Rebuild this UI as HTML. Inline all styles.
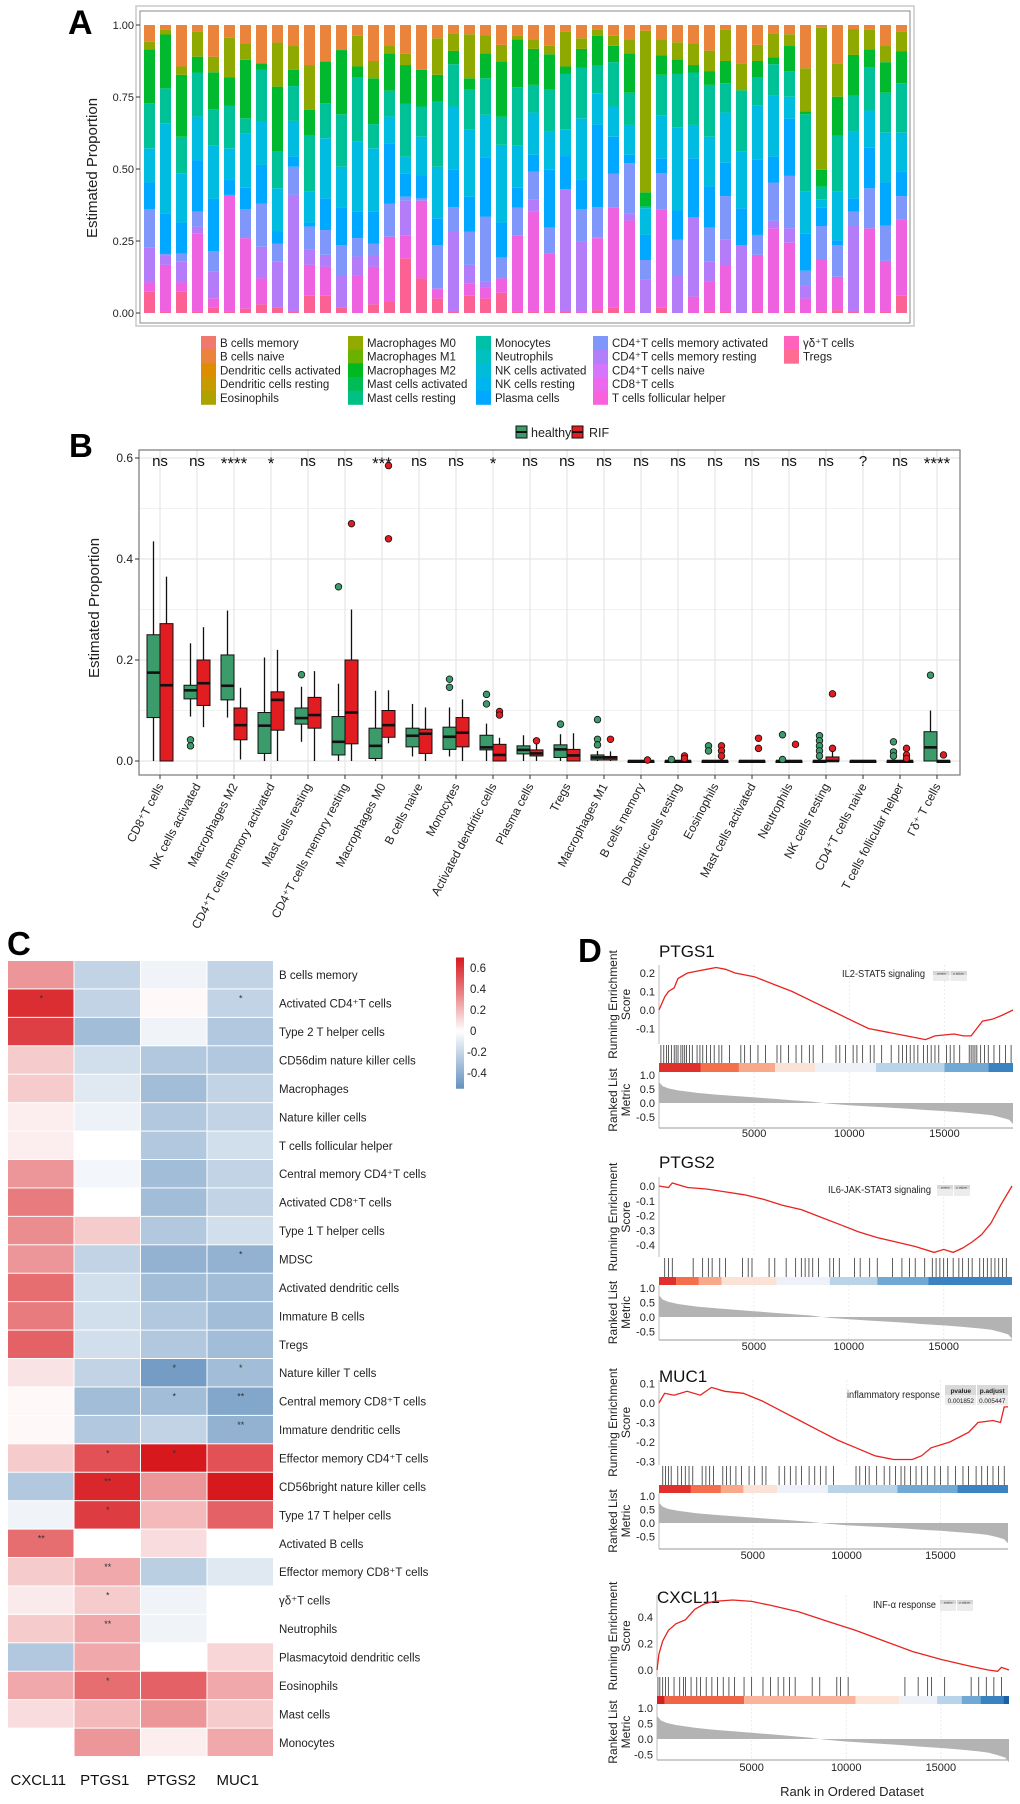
<!DOCTYPE html>
<html><head><meta charset="utf-8">
<style>
html,body{margin:0;padding:0;background:#fff;}
svg{display:block;font-family:"Liberation Sans",Arial,sans-serif;}
</style></head>
<body>
<svg id="fig" xmlns="http://www.w3.org/2000/svg" width="1020" height="1804" viewBox="0 0 1020 1804">
<rect x="0" y="0" width="1020" height="1804" fill="#fff"/>
<g id="pA"></g>
<g id="pB"></g>
<g id="pC"></g>
<g id="pD"></g>
</svg>
<script>
// ===== Panel A data (cumulative top of each stacked group per sample) =====
const aTregs  =[.074,.005,.074,.005,.02,.005,.015,.03,.02,.005,.06,.06,.02,0,.03,.04,.19,.12,.05,.005,.06,.05,.07,.005,.005,.005,.005,0,.01,.02,.005,0,.02,0,0,.005,.005,0,.005,0,.005,0,.005,.01,.005,0,.005,.06];
const aCD8Tfh =[.106,.167,.106,.277,.051,.41,.26,.12,.02,.005,.167,.16,.02,.13,.16,.265,.27,.39,.08,.005,.103,.09,.12,.268,.352,.207,.005,.005,.26,.367,.321,0,.36,0,.057,.109,.165,0,.202,.294,.244,.05,.184,.126,.005,.294,.181,.325];
const aCD4Rest=[.228,.2,.178,.30,.143,.41,.26,.23,.18,.41,.221,.202,.132,.196,.198,.265,.39,.39,.086,.283,.167,.109,.12,.268,.393,.207,.43,.248,.263,.367,.346,.115,.36,.132,.332,.178,.256,.236,.202,.32,.294,.097,.184,.126,.302,.294,.181,.325];
const aCD4Act =[.361,.205,.206,.352,.215,.41,.36,.38,.24,.508,.30,.288,.236,.26,.24,.379,.404,.398,.236,.367,.283,.335,.193,.366,.491,.296,.43,.361,.367,.483,.52,.184,.485,.254,.332,.296,.406,.236,.271,.453,.476,.147,.302,.236,.352,.433,.303,.406];
const aPlasma =[.453,.346,.314,.531,.396,.462,.435,.514,.283,.543,.314,.398,.366,.352,.352,.589,.485,.479,.329,.499,.404,.541,.314,.435,.549,.497,.545,.462,.653,.612,.549,.271,.537,.356,.537,.439,.522,.364,.534,.543,.674,.277,.367,.253,.398,.574,.453,.491];
const aNK     =[.572,.659,.485,.682,.581,.572,.622,.665,.433,.667,.421,.607,.508,.595,.572,.682,.543,.612,.508,.717,.636,.688,.584,.581,.696,.63,.638,.676,.763,.717,.653,.364,.685,.645,.653,.612,.696,.56,.72,.754,.751,.421,.395,.421,.63,.703,.626,.626];
const aMonoMast=[.728,.78,.612,.835,.708,.719,.676,.844,.56,.788,.618,.728,.69,.817,.656,.772,.726,.717,.734,.864,.775,.815,.682,.784,.792,.775,.83,.851,.859,.871,.765,.37,.827,.83,.835,.792,.798,.772,.818,.864,.84,.69,.439,.615,.754,.852,.765,.798];
const aMacroM2=[.916,.967,.827,.89,.836,.819,.879,.867,.786,.844,.705,.873,.913,.856,.815,.902,.861,.844,.827,.91,.815,.902,.873,.95,.917,.898,.856,.917,.963,.928,.902,.419,.894,.881,.861,.84,.875,.774,.875,.887,.927,.70,.497,.751,.896,.916,.871,.908];
const aMacroM0=[.942,.985,.856,.977,.89,.956,.937,.867,.939,.927,.861,.873,.913,.963,.875,.927,.90,.844,.954,.971,.968,.965,.931,.962,.95,.928,.977,.954,.985,.963,.95,.98,.948,.94,.934,.911,.985,.867,.931,.971,.968,.85,.99,.867,.986,.985,.927,.977];
const aGroupColors=["#fb6192","#ee61e0","#b47cf8","#7f96fb","#00a9ff","#00bce0","#00c197","#00b92f","#8fa900","#e9843a"];
const aYTicks=[0,0.25,0.5,0.75,1];
const aYTickLabels=["0.00","0.25","0.50","0.75","1.00"];
const legendCols=[
 ["B cells memory","B cells naive","Dendritic cells activated","Dendritic cells resting","Eosinophils"],
 ["Macrophages M0","Macrophages M1","Macrophages M2","Mast cells activated","Mast cells resting"],
 ["Monocytes","Neutrophils","NK cells activated","NK cells resting","Plasma cells"],
 ["CD4\u207AT cells memory activated","CD4\u207AT cells memory resting","CD4\u207AT cells naive","CD8\u207AT cells","T cells follicular helper"],
 ["\u03B3\u03B4\u207AT cells","Tregs"]];
const legendColColors=[
 ["#f1786c","#ea843a","#dc8d00","#c79a00","#aea200"],
 ["#93aa00","#6bb100","#00b81f","#00bc56","#00c083"],
 ["#00c1a5","#00c0c0","#00bcd8","#00b4ef","#00a9ff"],
 ["#7f96fb","#b07ff9","#d575fe","#ec69ef","#f962dd"],
 ["#ff62bc","#ff6c91"]];

// ===== Panel B data =====
const bCats=["CD8\u207AT cells","NK cells activated","Macrophages M2","CD4\u207AT cells memory activated","Mast cells resting","CD4\u207AT cells memory resting","Macrophages M0","B cells naive","Monocytes","Activated dendritic cells","Plasma cells","Tregs","Macrophages M1","B cells memory","Dendritic cells resting","Eosinophils","Mast cells activated","Neutrophils","NK cells resting","CD4\u207AT cells  naive","T cells follicular helper","\u0393\u03B4\u207A T cells"];
const bSig=["ns","ns","****","*","ns","ns","***","ns","ns","*","ns","ns","ns","ns","ns","ns","ns","ns","ns","?","ns","****"];
const hLo =[0,.088,.086,0,.038,0,0,.009,.009,0,0,0,0,0,0,0,0,0,0,0,0,0];
const hQ1 =[.086,.123,.121,.015,.073,.012,.005,.028,.023,.022,.014,.007,.002,0,0,0,0,0,0,0,0,0];
const hMed=[.175,.14,.149,.07,.085,.038,.03,.05,.048,.027,.022,.023,.007,0,0,0,0,0,0,0,0,.027];
const hQ3 =[.25,.15,.21,.096,.105,.088,.065,.065,.067,.051,.03,.032,.012,0,0,0,0,0,0,0,0,.058];
const hHi =[.435,.233,.298,.205,.147,.153,.139,.113,.106,.074,.051,.053,.02,0,0,0,0,0,0,0,0,.1];
const hOut=[[],[.042,.03],[],[],[.171],[.345],[],[],[.162,.146],[.132,.113],[],[.073],[.082,.043,.032],[],[.003],[.03,.02],[],[.052,.003],[.05,.04,.03,.02,.01],[],[.038,.018,.01],[.17]];
const rLo =[0,.067,.003,0,0,0,.035,0,0,0,0,0,0,0,0,0,0,0,0,0,0,0];
const rQ1 =[0,.11,.042,.061,.065,.034,.047,.015,.028,0,.01,0,.002,0,0,0,0,0,0,0,0,0];
const rMed=[.15,.154,.071,.121,.091,.096,.071,.054,.056,.012,.015,.011,.007,0,0,0,0,0,0,0,0,0];
const rQ3 =[.272,.2,.105,.137,.126,.2,.1,.063,.086,.033,.022,.023,.009,0,0,0,0,0,.008,0,0,0];
const rHi =[.365,.265,.145,.22,.178,.3,.14,.106,.122,.046,.042,.055,.019,0,0,0,0,0,.02,0,0,0];
const rOut=[[],[],[],[],[],[.47],[.585,.44],[],[],[.098,.091],[.04],[],[.043],[.002],[.01,.005],[.03,.02,.01],[.045,.025],[.033],[.133,.025],[],[.025,.012,.005],[.012]];
const bYTicks=[0,0.2,0.4,0.6];
const bYTickLabels=["0.0","0.2","0.4","0.6"];

// ===== Panel C data =====
const cRows=["B cells memory","Activated CD4\u207AT cells","Type 2 T helper cells","CD56dim nature killer cells","Macrophages","Nature killer cells","T cells follicular helper","Central memory CD4\u207AT cells","Activated CD8\u207AT cells","Type 1 T helper cells","MDSC","Activated dendritic cells","Immature B cells","Tregs","Nature killer T cells","Central memory CD8\u207AT cells","Immature dendritic cells","Effector memory CD4\u207AT cells","CD56bright nature killer cells","Type 17 T helper cells","Activated B cells","Effector memory CD8\u207AT cells","\u03B3\u03B4\u207AT cells","Neutrophils","Plasmacytoid dendritic cells","Eosinophils","Mast cells","Monocytes"];
const cGenes=["CXCL11","PTGS1","PTGS2","MUC1"];
const corrCXCL11=[.3,.6,.55,.15,.15,.05,.05,.3,.38,.33,.3,.42,.38,.45,.08,.02,.02,.15,-.25,-.05,.42,.15,.06,.15,-.25,.25,.1,0];
const corrPTGS1 =[-.2,-.2,-.3,-.15,-.1,-.06,0,-.04,0,.15,-.2,-.15,-.15,-.15,-.2,-.3,-.25,.5,.62,.56,0,.25,.15,.25,.25,.42,.2,.3];
const corrPTGS2 =[-.05,.02,-.05,-.25,-.3,-.25,-.25,-.3,-.3,-.25,-.35,-.3,-.25,-.25,-.45,-.3,-.2,.66,.3,.2,.1,-.22,-.05,-.05,0,.45,.3,.05];
const corrMUC1  =[-.2,-.2,-.25,-.25,-.2,-.2,-.15,-.2,-.2,-.15,-.35,-.3,-.3,-.3,-.3,-.4,-.35,.5,.66,.45,0,-.1,0,0,.12,.25,.15,.25];
const starsCXCL11=["","*","","","","","","","","","","","","","","","","","","","**","","","","","","",""];
const starsPTGS1 =["","","","","","","","","","","","","","","","","","*","**","*","","**","*","**","","*","",""];
const starsPTGS2 =["","","","","","","","","","","","","","","*","*","","*","","","","","","","","","",""];
const starsMUC1  =["","*","","","","","","","","","*","","","","*","**","**","","","","","","","","","","",""];
const cLegendTicks=[0.6,0.4,0.2,0,-0.2,-0.4];
const cLegendLabels=["0.6","0.4","0.2","0","-0.2","-0.4"];

// ===== Panel D data =====
const dXTicks=[5000,10000,15000];
const ptgs1Ranks=[0,300,500,800,1000,1500,2000,2500,3000,3500,4000,5000,6000,7000,8000,9000,10000,11000,12000,13000,14000,14500,15500,16000,16400,17000,17500,18000,18600];
const ptgs1ES=[0,.07,.1,.12,.17,.2,.21,.22,.23,.22,.2,.18,.14,.1,.05,0,-.05,-.1,-.12,-.14,-.16,-.14,-.13,-.14,-.14,-.06,-.05,-.03,0];
const ptgs1Hits=[100,250,400,500,650,800,900,1000,1150,1250,1350,1450,1600,1750,2000,2150,2300,2500,2700,2900,3150,3300,3700,4300,4500,4800,5200,5600,6200,6400,6800,7200,7500,7900,8100,8600,9300,9500,9800,10200,10400,10700,11100,11300,11700,12200,12600,12800,13000,13200,13400,13600,13900,14100,14300,14500,14700,15100,15300,15500,15800,16300,16400,16500,16600,16700,16900,17100,17300,17600,17900,18200,18500];
const ptgs1Bands=[0,2200,4200,6100,8200,11400,15000,17300,18600];
const ptgs2Ranks=[0,500,700,1500,2500,3500,4500,5500,6500,7500,8500,9500,10500,11500,12500,13500,14500,15000,15500,16000,16500,17000,17500,18000,18600];
const ptgs2ES=[0,-.01,.02,-.01,-.02,-.04,-.06,-.09,-.13,-.16,-.21,-.26,-.31,-.35,-.38,-.41,-.45,-.43,-.45,-.42,-.38,-.33,-.25,-.13,0];
const ptgs2Hits=[300,500,700,1800,2300,2600,2800,3200,3500,4400,4700,4900,5800,6100,6700,7200,7500,7700,7900,8100,8400,9000,9200,9500,10300,10600,11100,11500,12300,12800,13200,13500,14000,14400,14600,14800,15000,15200,15500,15800,16000,16300,16500,16900,17100,17300,17500,17700,17900,18100,18300];
const ptgs2Bands=[0,900,2100,3300,6200,9000,11500,14200,18600];
const muc1Ranks=[0,300,800,1500,2200,2800,3500,4500,5500,6500,7500,8500,9500,10500,11500,12500,13500,14000,14500,15500,16500,17000,17800,18200,18400,18600];
const muc1ES=[0,.05,.04,.06,.04,.08,.06,.05,.01,-.04,-.09,-.14,-.19,-.23,-.27,-.29,-.29,-.27,-.23,-.2,-.15,-.1,-.09,-.1,-.02,-.02];
const muc1Hits=[200,350,500,650,1000,1200,1400,1600,1800,2300,2500,2700,2900,3400,3600,3800,4100,4400,4800,5100,5500,5700,6400,6700,7000,7300,7600,8000,8300,8600,8900,9300,10500,10700,11000,11200,11600,12000,12300,12600,12900,13100,13400,13700,14000,14300,14700,15000,15400,15800,16200,16500,16900,17200,17500,17800,18100,18400];
const muc1Bands=[0,1700,3300,4500,6300,9000,12700,15900,18600];
const cxcl11Ranks=[0,100,300,600,1000,1500,2000,2500,3000,4000,5000,6000,7500,9000,10500,12000,13500,15000,16500,17500,18000,18200,18600];
const cxcl11ES=[0,.12,.22,.3,.35,.38,.46,.5,.52,.53,.52,.49,.44,.37,.3,.22,.14,.08,.03,0,-.01,.02,0];
const cxcl11Hits=[50,150,300,450,600,900,1200,1400,1500,1800,2100,2300,2600,2900,3200,3500,3800,4100,4600,5000,5600,6000,6400,6700,7000,7300,8200,8600,9500,9700,10100,13100,13800,14300,14500,15200,16600,17000,17400,17800,18200];
const cxcl11Bands=[0,400,4600,10500,12800,14800,16100,17100,18300,18600];
const metricRanks=[0,200,500,1000,2000,3000,4000,5000,6000,7000,8000,8600,9000,10000,11000,12000,13000,14000,15000,16000,17000,17500,18000,18400,18600];
const metricValues=[.75,.6,.52,.45,.36,.3,.25,.2,.15,.1,.05,0,-.03,-.08,-.12,-.16,-.2,-.25,-.29,-.34,-.4,-.44,-.52,-.6,-.75];

const NS="http://www.w3.org/2000/svg";
function mk(tag,attrs,parent){const e=document.createElementNS(NS,tag);for(const k in attrs)e.setAttribute(k,attrs[k]);parent.appendChild(e);return e;}
function txt(s,attrs,parent){const e=mk("text",attrs,parent);e.textContent=s;return e;}

// ================= PANEL A =================
(function(){
 const g=document.getElementById("pA");
 const yA=v=>313-288*v;
 const xA=i=>144+16*i;
 let t=txt("A",{x:68,y:34,"font-size":34,"font-weight":"bold"},g);
 
 
 mk("rect",{x:136,y:6,width:778,height:320,fill:"none",stroke:"#c8c8c8","stroke-width":1.5},g);
 const fr=mk("rect",{x:140,y:11,width:770,height:312,fill:"#fff",stroke:"#888","stroke-width":1},g);
 
 
 aYTicks.forEach((v,i)=>{
  mk("line",{x1:136,x2:140,y1:yA(v),y2:yA(v),stroke:"#333"},g);
  const l=txt(aYTickLabels[i],{x:134,y:yA(v)+4,"font-size":11,"text-anchor":"end",fill:"#222"},g);
  
  
 });
 const yl=txt("Estimated Proportion",{x:0,y:0,"font-size":15,"text-anchor":"middle",transform:"translate(97,168) rotate(-90)",fill:"#222"},g);
 
 
 const groups=[aTregs,aCD8Tfh,aCD4Rest,aCD4Act,aPlasma,aNK,aMonoMast,aMacroM2,aMacroM0];
 for(let i=0;i<aTregs.length;i++){
  let prev=0;
  for(let s=0;s<=groups.length;s++){
   const top=s<groups.length?Math.max(groups[s][i],prev):1;
   if(top>prev){
    const r=mk("rect",{x:xA(i),y:yA(top),width:11,height:yA(prev)-yA(top),fill:aGroupColors[s]},g);
    
    
   }
   prev=top;
  }
 }
 const lx=[201,348,476,593,784];
 legendCols.forEach((col,c)=>{
  col.forEach((name,r)=>{
   const y=336+r*13.7;
   const sw=mk("rect",{x:lx[c],y:y,width:15,height:14,fill:legendColColors[c][r]},g);
   
   
   const lt=txt(name,{x:lx[c]+19,y:y+11,"font-size":11.5,fill:"#222"},g);
   
   
  });
 });
})();

// ================= PANEL B =================
(function(){
 const g=document.getElementById("pB");
 const yB=v=>761-505*v;
 const xB=i=>160+37*i;
 let t=txt("B",{x:69,y:457,"font-size":33,"font-weight":"bold"},g);
 
 
 const lg=mk("g",{},g);
 
 
 mk("rect",{x:516,y:426,width:11,height:12,fill:"#3b9b6b",stroke:"#111"},lg);
 mk("line",{x1:516,x2:527,y1:432,y2:432,stroke:"#111","stroke-width":2},lg);
 txt("healthy",{x:531,y:437,"font-size":12.5,fill:"#222"},lg);
 mk("rect",{x:572,y:426,width:11,height:12,fill:"#e21d22",stroke:"#111"},lg);
 mk("line",{x1:572,x2:583,y1:432,y2:432,stroke:"#111","stroke-width":2},lg);
 txt("RIF",{x:589,y:437,"font-size":12.5,fill:"#222"},lg);
 mk("rect",{x:139,y:450,width:821,height:325,fill:"#fff"},g);
 [0.1,0.3,0.5].forEach(v=>mk("line",{x1:139,x2:960,y1:yB(v),y2:yB(v),stroke:"#f2f2f2","stroke-width":1},g));
 bYTicks.forEach(v=>mk("line",{x1:139,x2:960,y1:yB(v),y2:yB(v),stroke:"#e6e6e6","stroke-width":1.2},g));
 bCats.forEach((c,i)=>mk("line",{x1:xB(i),x2:xB(i),y1:450,y2:775,stroke:"#e6e6e6","stroke-width":1.2},g));
 const fr=mk("rect",{x:139,y:450,width:821,height:325,fill:"none",stroke:"#777","stroke-width":1.2},g);
 
 
 bYTicks.forEach((v,i)=>{
  mk("line",{x1:135,x2:139,y1:yB(v),y2:yB(v),stroke:"#333"},g);
  const l=txt(bYTickLabels[i],{x:133,y:yB(v)+4,"font-size":12,"text-anchor":"end",fill:"#222"},g);
  
  
 });
 const yl=txt("Estimated Proportion",{x:0,y:0,"font-size":15,"text-anchor":"middle",transform:"translate(99,608) rotate(-90)",fill:"#222"},g);
 
 
 function box(cx,lo,q1,med,q3,hi,outs,fill,name){
  const bg=mk("g",{},g);
  
  
  mk("line",{x1:cx,x2:cx,y1:yB(hi),y2:yB(lo),stroke:"#111","stroke-width":1.3},bg);
  const h=Math.max(yB(q1)-yB(q3),1.5);
  mk("rect",{x:cx-6.5,y:yB(q3),width:13,height:h,fill:fill,stroke:"#111","stroke-width":1},bg);
  mk("line",{x1:cx-6.5,x2:cx+6.5,y1:yB(med),y2:yB(med),stroke:"#111","stroke-width":2.6},bg);
  outs.forEach(o=>{
   const p=mk("circle",{cx:cx,cy:yB(o),r:3.3,fill:fill,stroke:"#111","stroke-width":0.8},bg);
   
   
  });
 }
 bCats.forEach((c,i)=>{
  box(xB(i)-6.5,hLo[i],hQ1[i],hMed[i],hQ3[i],hHi[i],hOut[i],"#3b9b6b","box-healthy");
  box(xB(i)+6.5,rLo[i],rQ1[i],rMed[i],rQ3[i],rHi[i],rOut[i],"#e21d22","box-rif");
  const s=bSig[i];
  const st=txt(s,{x:xB(i),y:s.indexOf("*")>=0?469:466,"font-size":s.indexOf("*")>=0?17:15,"text-anchor":"middle",fill:"#111"},g);
  
  
  mk("line",{x1:xB(i),x2:xB(i),y1:775,y2:779,stroke:"#333"},g);
  const cl=txt(c,{x:0,y:0,"font-size":12,"text-anchor":"end",fill:"#222",transform:"translate("+(xB(i)+4)+",786) rotate(-62)"},g);
  
  
 });
})();

// ================= PANEL C =================
(function(){
 const g=document.getElementById("pC");
 let t=txt("C",{x:7,y:955,"font-size":33,"font-weight":"bold"},g);
 
 
 function col(v){
  let r,gg,b;
  if(v>=0){const f=Math.min(v/0.66,1);r=255+(215-255)*f;gg=255+(25-255)*f;b=255+(30-255)*f;}
  else{const f=Math.min(-v/0.5,1);r=255+(100-255)*f;gg=255+(145-255)*f;b=255+(190-255)*f;}
  return "rgb("+Math.round(r)+","+Math.round(gg)+","+Math.round(b)+")";
 }
 const data=[corrCXCL11,corrPTGS1,corrPTGS2,corrMUC1];
 const stars=[starsCXCL11,starsPTGS1,starsPTGS2,starsMUC1];
 const x0=8,cw=66.5,y0=961,rh=28.43;
 cRows.forEach((name,i)=>{
  data.forEach((arr,j)=>{
   const c=mk("rect",{x:x0+j*cw,y:y0+i*rh,width:cw-1,height:rh-1,fill:col(arr[i])},g);
   
   
   if(stars[j][i]){
    const s=txt(stars[j][i],{x:x0+j*cw+cw/2,y:y0+i*rh+12,"font-size":9,"text-anchor":"middle",fill:"#333"},g);
    
    
   }
  });
  const l=txt(name,{x:279,y:y0+i*rh+rh/2+4,"font-size":11.5,fill:"#222"},g);
  
  
 });
 cGenes.forEach((gn,j)=>{
  const l=txt(gn,{x:x0+j*cw+cw/2-3,y:1785,"font-size":15,"text-anchor":"middle",fill:"#111"},g);
  
  
 });
 const yL=v=>1031-105*v;
 const defs=mk("defs",{},g);
 const lgd=mk("linearGradient",{id:"cgrad",x1:0,y1:0,x2:0,y2:1},defs);
 [[0.7,0],[0.35,0.45],[0,0.55],[-0.55,1]].forEach(p=>mk("stop",{offset:(yL(p[0])-yL(0.7))/(yL(-0.55)-yL(0.7)),"stop-color":col(p[0])},lgd));
 const cb=mk("rect",{x:456,y:yL(0.7),width:8,height:yL(-0.55)-yL(0.7),fill:"url(#cgrad)"},g);
 
 
 cLegendTicks.forEach((v,i)=>{
  const l=txt(cLegendLabels[i],{x:v<0?467:470,y:yL(v)+4,"font-size":11.5,fill:"#222"},g);
  
  
 });
})();

// ================= PANEL D =================
(function(){
 const g=document.getElementById("pD");
 let t=txt("D",{x:578,y:962,"font-size":33,"font-weight":"bold"},g);
 
 
 const bandColsStd=["#e0302b","#f4704c","#f7a98a","#fbe2d6","#eef2f8","#b9d4e8","#70a9d4","#3b83c0"];
 const bandColsCx=["#d42020","#f06548","#f9b59b","#fde5da","#eef2f8","#b9d4e8","#70a9d4","#3b83c0","#1d5fa5"];
 const panels=[
  {name:"PTGS1",ranks:ptgs1Ranks,es:ptgs1ES,hits:ptgs1Hits,bands:ptgs1Bands,bc:bandColsStd,x0:659,x1:1013,title:951,esTop:965,esBot:1044,es0:1010,esPer:185,esT:[0.2,0.1,0,-0.1],esL:["0.2","0.1","0.0","-0.1"],hitTop:1045,hitBot:1063,barBot:1072,mTop:1072,mBot:1128,m0:1103,mPer:28,xt:1137,label:"IL2-STAT5 signaling",lx:842,lw:83,ly:977,tbl:[933,971,967,981],big:false},
  {name:"PTGS2",ranks:ptgs2Ranks,es:ptgs2ES,hits:ptgs2Hits,bands:ptgs2Bands,bc:bandColsStd,x0:659,x1:1012,title:1162,esTop:1177,esBot:1257,es0:1186,esPer:147.5,esT:[0,-0.1,-0.2,-0.3,-0.4],esL:["0.0","-0.1","-0.2","-0.3","-0.4"],hitTop:1258,hitBot:1277,barBot:1285,mTop:1285,mBot:1340,m0:1317,mPer:29,xt:1350,label:"IL6-JAK-STAT3 signaling",lx:828,lw:103,ly:1193,tbl:[937,1185,970,1196],big:false},
  {name:"MUC1",ranks:muc1Ranks,es:muc1ES,hits:muc1Hits,bands:muc1Bands,bc:bandColsStd,x0:659,x1:1008,title:1376,esTop:1380,esBot:1465,es0:1403,esPer:195,esT:[0.1,0,-0.1,-0.2,-0.3],esL:["0.1","0.0","-0.3","-0.2","-0.3"],hitTop:1466,hitBot:1485,barBot:1493,mTop:1493,mBot:1549,m0:1523,mPer:27,xt:1559,label:"inflammatory response",lx:847,lw:93,ly:1398,tbl:[945,1385,1008,1405],big:true},
  {name:"CXCL11",ranks:cxcl11Ranks,es:cxcl11ES,hits:cxcl11Hits,bands:cxcl11Bands,bc:bandColsCx,x0:657,x1:1009,title:1597,esTop:1595,esBot:1677,es0:1670,esPer:132,esT:[0.4,0.2,0],esL:["0.4","0.2","0.0"],hitTop:1677,hitBot:1696,barBot:1704,mTop:1704,mBot:1760,m0:1739,mPer:31,xt:1771,label:"INF-\u03B1 response",lx:873,lw:63,ly:1608,tbl:[940,1600,973,1611],big:false}
 ];
 panels.forEach(p=>{
  const pg=mk("g",{},g);
  
  
  const xs=r=>p.x0+(p.x1-p.x0)*r/18600;
  const yE=v=>p.es0-p.esPer*v;
  const yM=v=>p.m0-p.mPer*v;
  const tt=txt(p.name,{x:p.x0,y:p.title+6,"font-size":17,fill:"#111"},pg);
  
  
  dXTicks.forEach(v=>{
   mk("line",{x1:xs(v),x2:xs(v),y1:p.esTop,y2:p.esBot,stroke:"#ececec","stroke-dasharray":"2,2"},pg);
   mk("line",{x1:xs(v),x2:xs(v),y1:p.mTop,y2:p.mBot,stroke:"#ececec","stroke-dasharray":"2,2"},pg);
  });
  mk("line",{x1:p.x0,x2:p.x0,y1:p.esTop,y2:p.esBot,stroke:"#bbb"},pg);
  mk("line",{x1:p.x0,x2:p.x0,y1:p.mTop,y2:p.mBot,stroke:"#bbb"},pg);
  mk("line",{x1:p.x0,x2:p.x1,y1:p.mBot,y2:p.mBot,stroke:"#999"},pg);
  p.esT.forEach((v,i)=>{
   const l=txt(p.esL[i],{x:p.x0-4,y:yE(v)+4,"font-size":11,"text-anchor":"end",fill:"#222"},pg);
   
   
  });
  const d=p.ranks.map((r,i)=>(i?"L":"M")+xs(r).toFixed(1)+","+yE(p.es[i]).toFixed(1)).join(" ");
  const ln=mk("path",{d:d,fill:"none",stroke:"#e8231f","stroke-width":1.3},pg);
  
  
  p.hits.forEach(h=>{
   const hl=mk("line",{x1:xs(h),x2:xs(h),y1:p.hitTop,y2:p.hitBot,stroke:"#333","stroke-width":0.8},pg);
   
   
  });
  for(let i=0;i<p.bands.length-1;i++){
   const b=mk("rect",{x:xs(p.bands[i]),y:p.hitBot,width:xs(p.bands[i+1])-xs(p.bands[i]),height:p.barBot-p.hitBot,fill:p.bc[i]},pg);
   
   
  }
  let md="M"+xs(0)+","+yM(0);
  metricRanks.forEach((r,i)=>{md+=" L"+xs(r).toFixed(1)+","+yM(metricValues[i]).toFixed(1);});
  md+=" L"+xs(18600)+","+yM(0)+" Z";
  const ma=mk("path",{d:md,fill:"#b3b3b3",stroke:"none"},pg);
  
  
  [[1,"1.0"],[0.5,"0.5"],[0,"0.0"],[-0.5,"-0.5"]].forEach(q=>{
   const l=txt(q[1],{x:p.x0-4,y:yM(q[0])+4,"font-size":11,"text-anchor":"end",fill:"#222"},pg);
   
   
  });
  dXTicks.forEach(v=>{
   const l=txt(String(v),{x:xs(v),y:p.xt,"font-size":11,"text-anchor":"middle",fill:"#222"},pg);
   
   
  });
  const esMid=(p.esTop+p.esBot)/2;
  const a1=txt("Running Enrichment",{x:0,y:0,"font-size":12,"text-anchor":"middle",fill:"#222",transform:"translate(617,"+esMid+") rotate(-90)"},pg);
  
  
  txt("Score",{x:0,y:0,"font-size":12,"text-anchor":"middle",fill:"#222",transform:"translate(630,"+esMid+") rotate(-90)"},pg);
  const mMid=(p.mTop+p.mBot)/2;
  const a2=txt("Ranked List",{x:0,y:0,"font-size":12,"text-anchor":"middle",fill:"#222",transform:"translate(617,"+mMid+") rotate(-90)"},pg);
  
  
  txt("Metric",{x:0,y:0,"font-size":12,"text-anchor":"middle",fill:"#222",transform:"translate(630,"+mMid+") rotate(-90)"},pg);
  const an=txt(p.label,{x:p.lx,y:p.ly,"font-size":10,textLength:p.lw,lengthAdjust:"spacingAndGlyphs",fill:"#222"},pg);
  
  
  const tb=p.tbl;
  const tg=mk("g",{},pg);
  
  
  mk("rect",{x:tb[0],y:tb[1],width:tb[2]-tb[0],height:tb[3]-tb[1],fill:"#ececec"},tg);
  const mx=(tb[0]+tb[2])/2;
  if(p.big){
   mk("rect",{x:tb[0],y:tb[1],width:tb[2]-tb[0],height:10,fill:"#d9d9d9"},tg);
   txt("pvalue",{x:(tb[0]+mx)/2,y:tb[1]+8,"font-size":6.5,"font-weight":"bold","text-anchor":"middle",fill:"#222"},tg);
   txt("p.adjust",{x:(mx+tb[2])/2,y:tb[1]+8,"font-size":6.5,"font-weight":"bold","text-anchor":"middle",fill:"#222"},tg);
   txt("0.001852",{x:(tb[0]+mx)/2,y:tb[1]+18,"font-size":6.3,"text-anchor":"middle",fill:"#222"},tg);
   txt("0.005447",{x:(mx+tb[2])/2,y:tb[1]+18,"font-size":6.3,"text-anchor":"middle",fill:"#222"},tg);
  }else{
   mk("rect",{x:tb[0],y:tb[1],width:tb[2]-tb[0],height:4,fill:"#d6d6d6"},tg);
   txt("pvalue",{x:(tb[0]+mx)/2,y:tb[1]+3.5,"font-size":3,"text-anchor":"middle",fill:"#333"},tg);
   txt("p.adjust",{x:(mx+tb[2])/2,y:tb[1]+3.5,"font-size":3,"text-anchor":"middle",fill:"#333"},tg);
  }
  mk("line",{x1:mx,x2:mx,y1:tb[1],y2:tb[3],stroke:"#fff"},tg);
 });
 const xl=txt("Rank in Ordered Dataset",{x:852,y:1796,"font-size":13,"text-anchor":"middle",fill:"#222"},g);
 
 
})();
</script>
</body></html>
